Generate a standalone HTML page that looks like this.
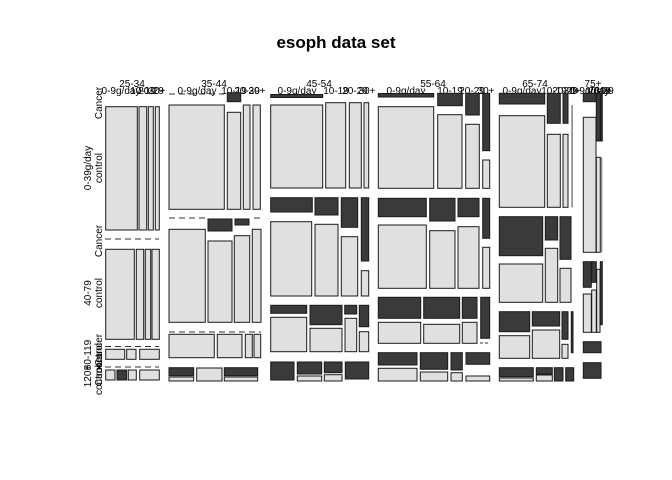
<!DOCTYPE html>
<html><head><meta charset="utf-8"><style>
html,body{margin:0;padding:0;background:#fff;}
svg{display:block;font-family:"Liberation Sans",Arial,sans-serif;}
.l{fill:#e0e0e0;stroke:#1a1a1a;stroke-width:1;}
.d{fill:#3a3a3a;stroke:#1a1a1a;stroke-width:1;}
.ds{stroke:#333;stroke-width:1;stroke-dasharray:6,4;}
text{font-size:10px;fill:#000;}
</style></head><body>
<svg width="672" height="480" viewBox="0 0 672 480" xmlns="http://www.w3.org/2000/svg">
<rect width="672" height="480" fill="#fff"/>
<text x="336" y="48" text-anchor="middle" style="font-size:17px;font-weight:bold">esoph data set</text>

<!-- age labels -->
<text x="132" y="87" text-anchor="middle">25-34</text>
<text x="214" y="87" text-anchor="middle">35-44</text>
<text x="319" y="87" text-anchor="middle">45-54</text>
<text x="433" y="87" text-anchor="middle">55-64</text>
<text x="535" y="87" text-anchor="middle">65-74</text>
<text x="593" y="87" text-anchor="middle">75+</text>
<!-- level labels -->
<g text-anchor="middle">
<text x="121" y="94">0-9g/day</text><text x="143" y="94">10-19</text><text x="151" y="94">20-29</text><text x="157" y="94">30+</text>
<text x="197" y="94">0-9g/day</text><text x="234" y="94">10-19</text><text x="247" y="94">20-29</text><text x="257" y="94">30+</text>
<text x="297" y="94">0-9g/day</text><text x="336" y="94">10-19</text><text x="355" y="94">20-29</text><text x="367" y="94">30+</text>
<text x="406" y="94">0-9g/day</text><text x="450" y="94">10-19</text><text x="472" y="94">20-29</text><text x="486" y="94">30+</text>
<text x="522" y="94">0-9g/day</text><text x="554" y="94">10-19</text><text x="565" y="94">20-29</text><text x="572" y="94">30+</text>
<text x="590" y="94">0-9g/day</text><text x="598" y="94">10-19</text><text x="601" y="94">20-29</text><text x="603" y="94">30+</text>
</g>
<!-- row labels -->
<g text-anchor="middle">
<text transform="translate(102,103) rotate(-90)">Cancer</text>
<text transform="translate(91,168) rotate(-90)">0-39g/day</text>
<text transform="translate(102,168) rotate(-90)">control</text>
<text transform="translate(102,241) rotate(-90)">Cancer</text>
<text transform="translate(91,293) rotate(-90)">40-79</text>
<text transform="translate(102,293) rotate(-90)">control</text>
<text transform="translate(91,355) rotate(-90)">80-119</text>
<text transform="translate(102,350) rotate(-90)">Cancer</text>
<text transform="translate(102,358) rotate(-90)">control</text>
<text transform="translate(91,376) rotate(-90)">120+</text>
<text transform="translate(102,370) rotate(-90)">Cancer</text>
<text transform="translate(102,380) rotate(-90)">control</text>
</g>

<!-- 25-34 -->
<rect class="l" x="105.7" y="106.7" width="31.6" height="123.3"/>
<rect class="l" x="139" y="106.7" width="7.7" height="123.3"/>
<rect class="l" x="148.3" y="106.7" width="5" height="123.3"/>
<rect class="l" x="155.3" y="106.7" width="4" height="123.3"/>
<line class="ds" x1="105" y1="239" x2="159" y2="239"/>
<rect class="l" x="105.7" y="249.3" width="28.6" height="90"/>
<rect class="l" x="136.3" y="249.3" width="7.4" height="90"/>
<rect class="l" x="145.3" y="249.3" width="5.4" height="90"/>
<rect class="l" x="152" y="249.3" width="7.3" height="90"/>
<line class="ds" x1="105" y1="346.5" x2="159" y2="346.5"/>
<rect class="l" x="105.7" y="349.3" width="19" height="10"/>
<rect class="l" x="126.7" y="349.3" width="9.3" height="10"/>
<rect class="l" x="139.7" y="349.3" width="19.6" height="10"/>
<line class="ds" x1="105" y1="367" x2="159" y2="367"/>
<rect class="l" x="105.7" y="370" width="9.3" height="10"/>
<rect class="d" x="117" y="370" width="9.7" height="10"/>
<rect class="l" x="128.3" y="370" width="8" height="10"/>
<rect class="l" x="139.7" y="370" width="19.6" height="10"/>

<!-- 35-44 -->
<line class="ds" x1="169" y1="94" x2="224" y2="94"/>
<rect class="d" x="227.3" y="92.7" width="13.4" height="9"/>
<rect class="l" x="169" y="105" width="55.3" height="104.3"/>
<rect class="l" x="227.3" y="112.3" width="13.4" height="97"/>
<rect class="l" x="243.3" y="105" width="6.7" height="104.3"/>
<rect class="l" x="253" y="105" width="7.3" height="104.3"/>
<line class="ds" x1="169" y1="218" x2="206" y2="218"/>
<rect class="d" x="208" y="219" width="24" height="12"/>
<rect class="d" x="235" y="219" width="14" height="6"/>
<line class="ds" x1="254" y1="218" x2="261" y2="218"/>
<rect class="l" x="169" y="229.3" width="36.3" height="93"/>
<rect class="l" x="208" y="241" width="24" height="81.3"/>
<rect class="l" x="234.3" y="235.7" width="15.4" height="86.6"/>
<rect class="l" x="252.3" y="229.3" width="8.7" height="93"/>
<line class="ds" x1="169" y1="332" x2="261" y2="332"/>
<rect class="l" x="169" y="334.3" width="45.3" height="23.4"/>
<rect class="l" x="217.3" y="334.3" width="24.7" height="23.4"/>
<rect class="l" x="245.3" y="334.3" width="7" height="23.4"/>
<rect class="l" x="254" y="334.3" width="6.7" height="23.4"/>
<rect class="d" x="169" y="367.7" width="24.7" height="8"/>
<rect class="l" x="169" y="377" width="24.7" height="4"/>
<rect class="l" x="196.7" y="368" width="25.3" height="13"/>
<rect class="d" x="224.3" y="367.7" width="33.4" height="8"/>
<rect class="l" x="224.3" y="377" width="33.4" height="4"/>

<!-- 45-54 -->
<rect class="d" x="270.7" y="94.5" width="52" height="3"/>
<rect class="l" x="270.7" y="105" width="52" height="83"/>
<rect class="l" x="325.7" y="102.7" width="20" height="85.3"/>
<rect class="l" x="349.3" y="102.7" width="12" height="85.3"/>
<rect class="l" x="364" y="102.7" width="4.7" height="85.3"/>
<rect class="d" x="270.7" y="197.7" width="41.6" height="14.3"/>
<rect class="d" x="315" y="197.7" width="23" height="17.3"/>
<rect class="d" x="341.3" y="197.7" width="16.4" height="29.6"/>
<rect class="d" x="361.3" y="197.7" width="7.4" height="63.3"/>
<rect class="l" x="270.7" y="221.7" width="41" height="74.3"/>
<rect class="l" x="315" y="224.3" width="23" height="71.7"/>
<rect class="l" x="341.3" y="236.7" width="16.4" height="59.3"/>
<rect class="l" x="361.3" y="270.7" width="7.4" height="25.3"/>
<rect class="d" x="270.7" y="305.3" width="36" height="8"/>
<rect class="d" x="310" y="305.3" width="32" height="19.4"/>
<rect class="d" x="344.7" y="305.3" width="12" height="8.7"/>
<rect class="d" x="359.3" y="305.3" width="9.4" height="21.4"/>
<rect class="l" x="270.7" y="317.3" width="36" height="34.4"/>
<rect class="l" x="310" y="328.3" width="32" height="23.4"/>
<rect class="l" x="345" y="318.3" width="11.7" height="33.4"/>
<rect class="l" x="359.3" y="331.7" width="9.4" height="20"/>
<rect class="d" x="270.7" y="362" width="23.3" height="18"/>
<rect class="d" x="297.3" y="362" width="24.4" height="12"/>
<rect class="l" x="297.3" y="376" width="24.4" height="5"/>
<rect class="d" x="324.3" y="362" width="17.7" height="10.7"/>
<rect class="l" x="324.3" y="374.7" width="17.7" height="6.3"/>
<rect class="d" x="345.3" y="362" width="23.4" height="17"/>

<!-- 55-64 -->
<rect class="d" x="378.3" y="93.5" width="55.4" height="3.5"/>
<rect class="d" x="437.7" y="93.3" width="24.6" height="12.4"/>
<rect class="d" x="465.7" y="93.3" width="13.6" height="21.7"/>
<rect class="d" x="482.7" y="93.3" width="7" height="57.4"/>
<rect class="l" x="378.3" y="106.7" width="55.4" height="81.6"/>
<rect class="l" x="437.7" y="114.7" width="24.3" height="73.6"/>
<rect class="l" x="465.7" y="124.3" width="13.6" height="64"/>
<rect class="l" x="482.7" y="160" width="7" height="28.3"/>
<rect class="d" x="378.3" y="198.3" width="48" height="18.4"/>
<rect class="d" x="429.7" y="198.3" width="25.3" height="22.7"/>
<rect class="d" x="458" y="198.3" width="21" height="18.4"/>
<rect class="d" x="482.7" y="198.3" width="7" height="40"/>
<rect class="l" x="378.3" y="225" width="48" height="63.3"/>
<rect class="l" x="429.7" y="230.7" width="25.3" height="57.6"/>
<rect class="l" x="458" y="226.7" width="21" height="61.6"/>
<rect class="l" x="482.7" y="247.3" width="7" height="41"/>
<rect class="d" x="378.3" y="297.3" width="42.4" height="21"/>
<rect class="d" x="423.7" y="297.3" width="36" height="21"/>
<rect class="d" x="462.3" y="297.3" width="14.7" height="21"/>
<rect class="d" x="480.7" y="297.3" width="9" height="41"/>
<rect class="l" x="378.3" y="322.3" width="42.4" height="21"/>
<rect class="l" x="423.7" y="324.3" width="36" height="19"/>
<rect class="l" x="462.3" y="322.3" width="14.7" height="21"/>
<line class="ds" x1="480" y1="343" x2="490" y2="343" style="stroke-dasharray:3,2"/>
<rect class="d" x="378.3" y="352.7" width="38.7" height="12.3"/>
<rect class="l" x="378.3" y="368.3" width="38.7" height="12.7"/>
<rect class="d" x="420.3" y="352.7" width="27.4" height="16.6"/>
<rect class="l" x="420.3" y="372" width="27.4" height="9"/>
<rect class="d" x="451" y="352.7" width="11.3" height="17.3"/>
<rect class="l" x="451" y="372.7" width="11.3" height="8.3"/>
<rect class="d" x="466" y="352.7" width="23.7" height="11.6"/>
<rect class="l" x="466" y="376" width="23.7" height="5"/>

<!-- 65-74 -->
<rect class="d" x="499.3" y="93.3" width="45.4" height="10.7"/>
<rect class="d" x="547.3" y="93.3" width="13" height="30"/>
<rect class="d" x="563" y="93.3" width="5" height="30"/>
<rect x="571.3" y="105" width="1.6" height="102.3" fill="#888"/>
<rect class="l" x="499.3" y="115.7" width="45.4" height="91.6"/>
<rect class="l" x="547.3" y="134.3" width="13" height="73"/>
<rect class="l" x="563" y="134.3" width="5" height="73"/>
<rect class="d" x="499.3" y="216.7" width="43.4" height="39"/>
<rect class="d" x="545.3" y="216.7" width="12.4" height="23.3"/>
<rect class="d" x="560" y="216.7" width="11" height="42.6"/>
<rect class="l" x="499.3" y="264" width="43.4" height="38.3"/>
<rect class="l" x="545.3" y="248.3" width="12.4" height="54"/>
<rect class="l" x="560" y="268.3" width="11" height="34"/>
<rect class="d" x="499.3" y="311.7" width="30.4" height="20"/>
<rect class="d" x="532.3" y="311.7" width="27.4" height="14.3"/>
<rect class="d" x="562" y="311.7" width="6" height="27.6"/>
<rect class="d" x="571.3" y="311.7" width="1.7" height="41"/>
<rect class="l" x="499.3" y="335.7" width="30.4" height="22.6"/>
<rect class="l" x="532.3" y="330" width="27.4" height="28.3"/>
<rect class="l" x="562" y="344.3" width="6" height="14"/>
<rect class="d" x="499.3" y="367.7" width="34" height="9"/>
<rect class="l" x="499.3" y="378" width="34" height="3"/>
<rect class="d" x="536.3" y="367.7" width="16" height="6.3"/>
<rect class="l" x="536.3" y="375" width="16" height="6"/>
<rect class="d" x="554.3" y="367.7" width="8.7" height="13.3"/>
<rect class="d" x="565.7" y="367.7" width="8" height="13.3"/>

<!-- 75+ -->
<rect class="d" x="583.3" y="93.3" width="12.7" height="8.4"/>
<rect class="d" x="596.3" y="93.3" width="4" height="47.7"/>
<rect class="d" x="600.7" y="93.3" width="1.6" height="47.7"/>
<rect class="l" x="583.3" y="117.3" width="12.7" height="135"/>
<rect class="l" x="596.3" y="157.3" width="4" height="95"/>
<rect x="600.7" y="157.3" width="1.6" height="95" fill="#888"/>
<rect class="d" x="583.3" y="261.7" width="8" height="25.6"/>
<rect class="d" x="591.7" y="261.7" width="4.6" height="20.6"/>
<rect class="d" x="600.3" y="261.7" width="2" height="63"/>
<rect class="l" x="583.3" y="294" width="8" height="38.3"/>
<rect class="l" x="591.7" y="290" width="4.6" height="42.3"/>
<rect class="l" x="596.7" y="269.3" width="3.3" height="63"/>
<rect class="d" x="583.3" y="341.7" width="17.7" height="11"/>
<rect class="d" x="583.3" y="362.7" width="17.7" height="15.6"/>
</svg>
</body></html>
